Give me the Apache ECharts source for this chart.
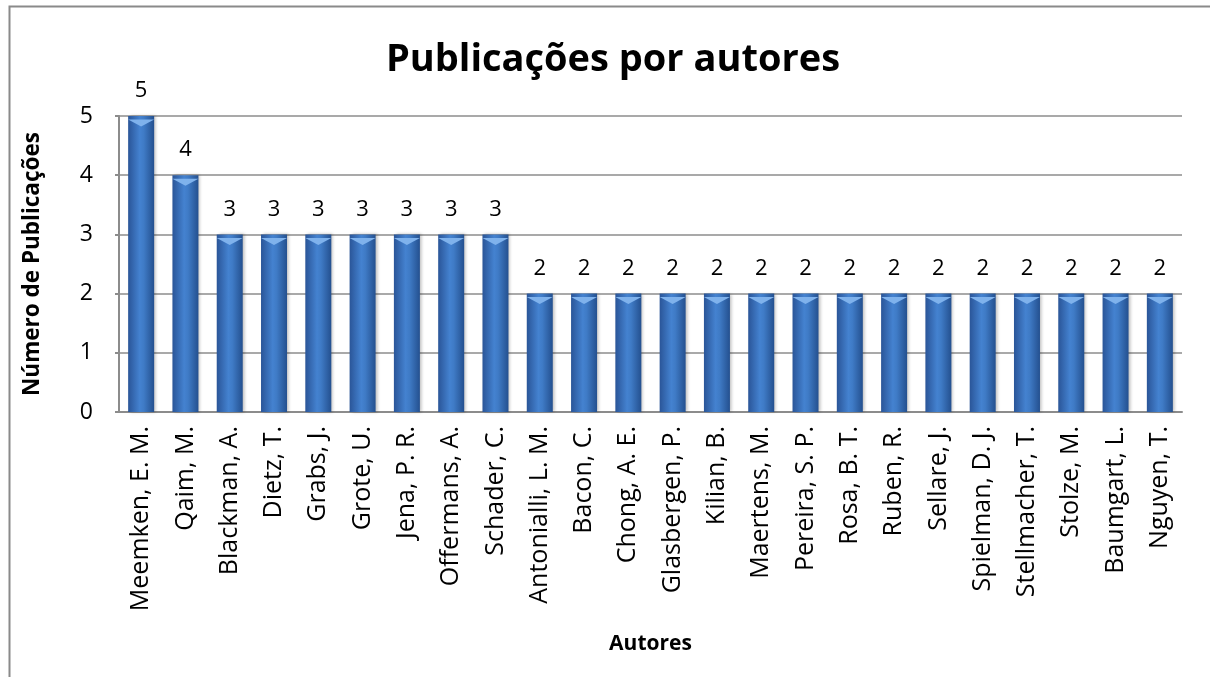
<!DOCTYPE html>
<html><head><meta charset="utf-8">
<script src="https://cdn.jsdelivr.net/npm/echarts@6/dist/echarts.min.js"></script>
<style>html,body{margin:0;padding:0;background:#fff}#c{width:1210px;height:677px}</style>
</head><body><div id="c"></div>
<script>
const titleText = "Publicações por autores";
const yAxisName = "Número de Publicações";
const xAxisName = "Autores";
const authors = ["Meemken, E. M.","Qaim, M.","Blackman, A.","Dietz, T.","Grabs, J.","Grote, U.","Jena, P. R.","Offermans, A.","Schader, C.","Antonialli, L. M.","Bacon, C.","Chong, A. E.","Glasbergen, P.","Kilian, B.","Maertens, M.","Pereira, S. P.","Rosa, B. T.","Ruben, R.","Sellare, J.","Spielman, D. J.","Stellmacher, T.","Stolze, M.","Baumgart, L.","Nguyen, T."];
const publications = [5,4,3,3,3,3,3,3,3,2,2,2,2,2,2,2,2,2,2,2,2,2,2,2];
const yTicks = [0,1,2,3,4,5];

const FONT = "'Open Sans', sans-serif";
const chart = echarts.init(document.getElementById('c'), null, {renderer:'canvas'});
chart.setOption({
  backgroundColor:'#fff',
  animation:false,
  title:{text:titleText,left:608,top:36,textAlign:'center',
    textStyle:{fontFamily:FONT,fontWeight:'bold',fontSize:38,color:'#000'}},
  graphic:[{type:'rect',left:7,top:4,shape:{width:1230,height:700},
    style:{fill:'none',stroke:'#8a8a8a',lineWidth:2},z:-1}],
  grid:{left:119,right:28,top:116,bottom:265,containLabel:false},
  xAxis:{type:'category',data:authors,
    name:xAxisName,nameLocation:'middle',nameGap:222,
    nameTextStyle:{fontFamily:FONT,fontWeight:'bold',fontSize:21,color:'#000'},
    axisLine:{lineStyle:{color:'#8c8c8c',width:2}},
    axisTick:{show:false},
    axisLabel:{rotate:90,interval:0,margin:14,fontFamily:FONT,fontSize:25,color:'#000'}},
  yAxis:{type:'value',min:0,max:5,interval:1,
    name:yAxisName,nameLocation:'middle',nameGap:75,
    nameTextStyle:{fontFamily:FONT,fontWeight:'bold',fontSize:22.5,color:'#000'},
    axisLine:{show:true,lineStyle:{color:'#8c8c8c',width:2}},
    axisTick:{show:true,length:4,lineStyle:{color:'#8c8c8c',width:2}},
    axisLabel:{margin:26,fontFamily:FONT,fontSize:23,color:'#000',
      formatter:v=>yTicks.includes(v)?String(v):''},
    splitLine:{show:true,lineStyle:{color:'#8c8c8c',width:1.5}}},
  series:[{
    type:'bar',data:publications,barWidth:26,
    itemStyle:{color:new echarts.graphic.LinearGradient(0,0,1,0,[
      {offset:0,color:'#2a5598'},{offset:0.45,color:'#4482d0'},{offset:0.6,color:'#3f7bc6'},{offset:1,color:'#24508f'}]),
      shadowColor:'rgba(0,0,0,0.25)',shadowBlur:3,shadowOffsetX:2,shadowOffsetY:0},
    label:{show:true,position:'top',distance:14,fontFamily:FONT,fontSize:22,color:'#000'},
    z:2
  },{
    type:'pictorialBar',data:publications,symbol:'path://M0,0 L10,0 L5,3 Z',
    symbolSize:[26,7],symbolPosition:'end',symbolOffset:[0,'50%'],
    itemStyle:{color:'#7fb2ec'},z:3,silent:true
  }]
});
</script></body></html>
